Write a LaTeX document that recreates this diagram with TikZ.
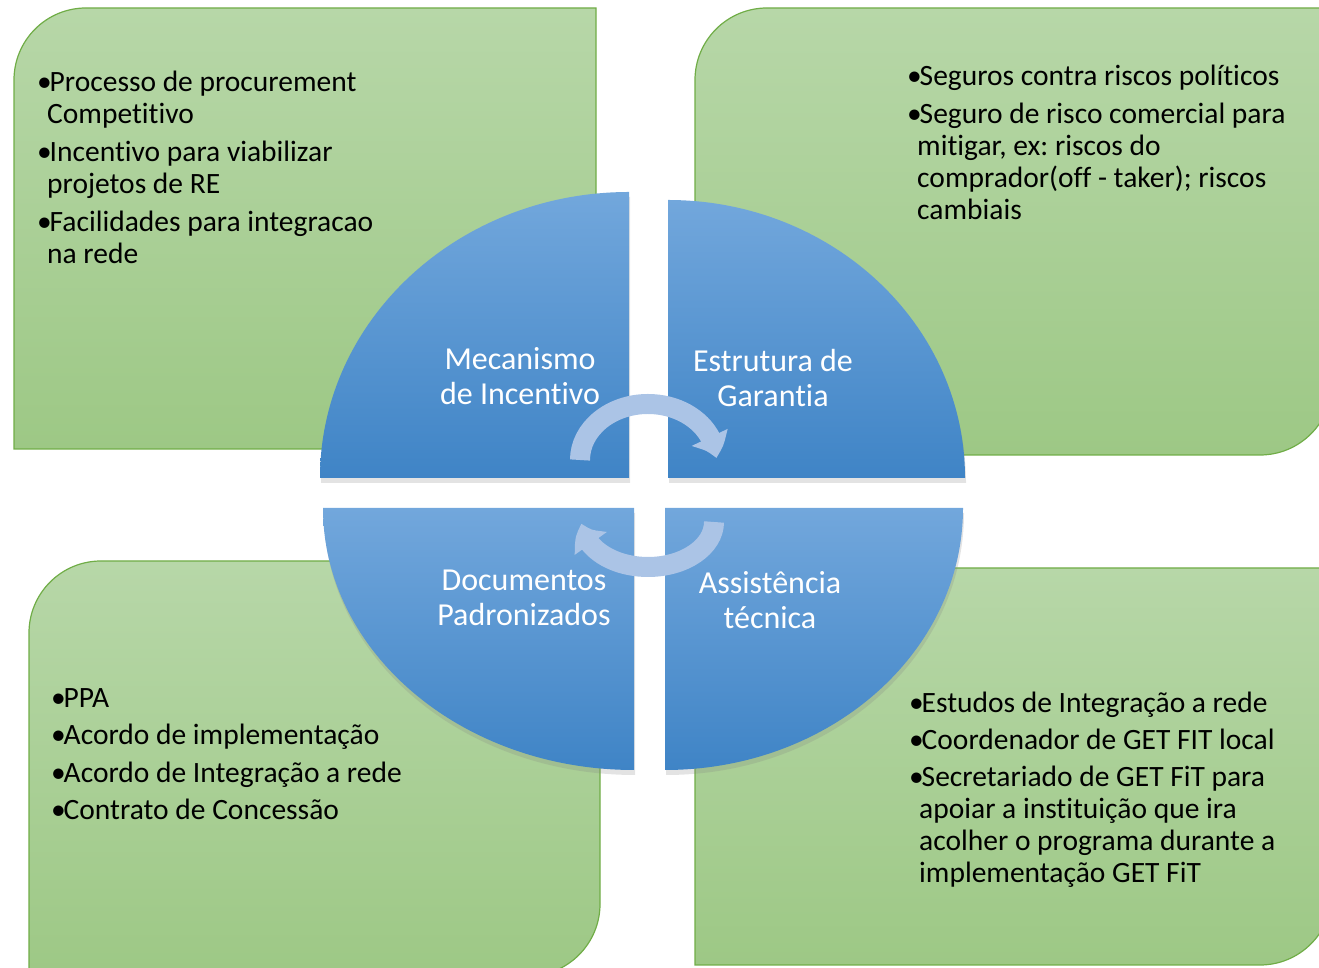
\documentclass[tikz,border=0pt]{standalone}
\usepackage{fontspec}
\setmainfont{Carlito}[Ligatures=NoCommon]
\frenchspacing
\usepackage{tikz}
\usetikzlibrary{arrows.meta,bending,shadows,positioning}

\definecolor{gruenOben}{HTML}{B7D7A8}
\definecolor{gruenUnten}{HTML}{9DC885}
\definecolor{gruenRand}{HTML}{70AD47}
\definecolor{blauOben}{HTML}{72A7DC}
\definecolor{blauUnten}{HTML}{3F84C6}
\definecolor{pfeilBlau}{HTML}{ABC4E6}

\newcommand{\bul}{\makebox[12.5pt][l]{\textbullet}}
\newcommand{\ein}{\hspace*{10pt}}

\tikzset{
  kasten/.style={draw=gruenRand, line width=1.2pt, top color=gruenOben, bottom color=gruenUnten},
  viertel/.style={top color=blauOben, bottom color=blauUnten,
    drop shadow={opacity=0.22, shadow xshift=1pt, shadow yshift=-5pt}},
  liste/.style={anchor=north west, inner sep=0pt, align=left, text=black,
    font=\fontsize{29.5}{32}\selectfont},
  titel/.style={align=center, inner sep=0pt, text=white,
    font=\fontsize{32}{35.5}\selectfont},
  kreispfeil/.style={draw=pfeilBlau, line width=20pt, -{Triangle[width=38pt, length=22pt, bend]}}
}

\begin{document}
\begin{tikzpicture}[x=1pt, y=1pt]
	\useasboundingbox (0,0) rectangle (1319,968);
	\clip (0,0) rectangle (1319,968);
	% Kaesten
		\path[kasten] (14,519) -- (14,888) arc[start angle=180, end angle=90, radius=72]
			-- (596,960) -- (596,591) arc[start angle=0, end angle=-90, radius=72] -- cycle;
		\path[kasten] (695,513) -- (695,888) arc[start angle=180, end angle=90, radius=72]
			-- (1332,960) -- (1332,585) arc[start angle=0, end angle=-90, radius=72] -- cycle;
		\path[kasten] (29,-8) -- (29,335) arc[start angle=180, end angle=90, radius=72]
			-- (600,407) -- (600,64) arc[start angle=0, end angle=-90, radius=72] -- cycle;
		\path[kasten] (695,3) -- (695,328) arc[start angle=180, end angle=90, radius=72]
			-- (1332,400) -- (1332,75) arc[start angle=0, end angle=-90, radius=72] -- cycle;
	% Listen
		\node (listeIncentivo) at (37,897) [liste]
			{\bul Processo de procurement\\ \ein Competitivo\\[6pt]
			 \bul Incentivo para viabilizar\\ \ein projetos de RE\\[6pt]
			 \bul Facilidades para integracao\\ \ein na rede};
		\node (listeGarantia) at (907,903) [liste]
			{\bul Seguros contra riscos políticos\\[6pt]
			 \bul Seguro de risco comercial para\\ \ein mitigar, ex: riscos do\\
			 \ein comprador(off - taker); riscos\\ \ein cambiais};
		\node (listeDocumentos) at (51,280) [liste]
			{\bul PPA\\[5.5pt]
			 \bul Acordo de implementação\\[5.5pt]
			 \bul Acordo de Integração a rede\\[5.5pt]
			 \bul Contrato de Concessão};
		\node (listeAssistencia) at (909,276) [liste]
			{\bul Estudos de Integração a rede\\[5pt]
			 \bul Coordenador de GET FIT local\\[5pt]
			 \bul Secretariado de GET FiT para\\ \ein apoiar a instituição que ira\\
			 \ein acolher o programa durante a\\ \ein implementação GET FiT};
	% Viertelkreise
		\path[viertel] (629,490) -- (320,490) arc[start angle=180, end angle=90, x radius=309, y radius=286] -- cycle;
		\path[viertel] (668,490) -- (668,768) arc[start angle=90, end angle=0, x radius=297, y radius=278] -- cycle;
		\path[viertel] (634,460) -- (323,460) arc[start angle=180, end angle=270, x radius=311, y radius=262] -- cycle;
		\path[viertel] (665,460) -- (963,460) arc[start angle=0, end angle=-90, x radius=298, y radius=262] -- cycle;
	% Titel
		\node (incentivo) at (520,592) [titel] {Mecanismo\\ de Incentivo};
		\node (garantia) at (773,590) [titel] {Estrutura de\\ Garantia};
		\node (documentos) at (524,370) [titel] {Documentos\\ Padronizados};
		\node (assistencia) at (770,368) [titel] {Assistência\\ técnica};
	% Pfeile
		\coordinate (mitteOben) at (648,508);
		\coordinate (mitteUnten) at (648,446);
		\draw[kreispfeil] ([xshift=-68pt]mitteOben) arc[start angle=180, end angle=2, x radius=68, y radius=56];
		\draw[kreispfeil] ([xshift=66pt]mitteUnten) arc[start angle=0, end angle=-178, x radius=66, y radius=45];
\end{tikzpicture}
\end{document}
